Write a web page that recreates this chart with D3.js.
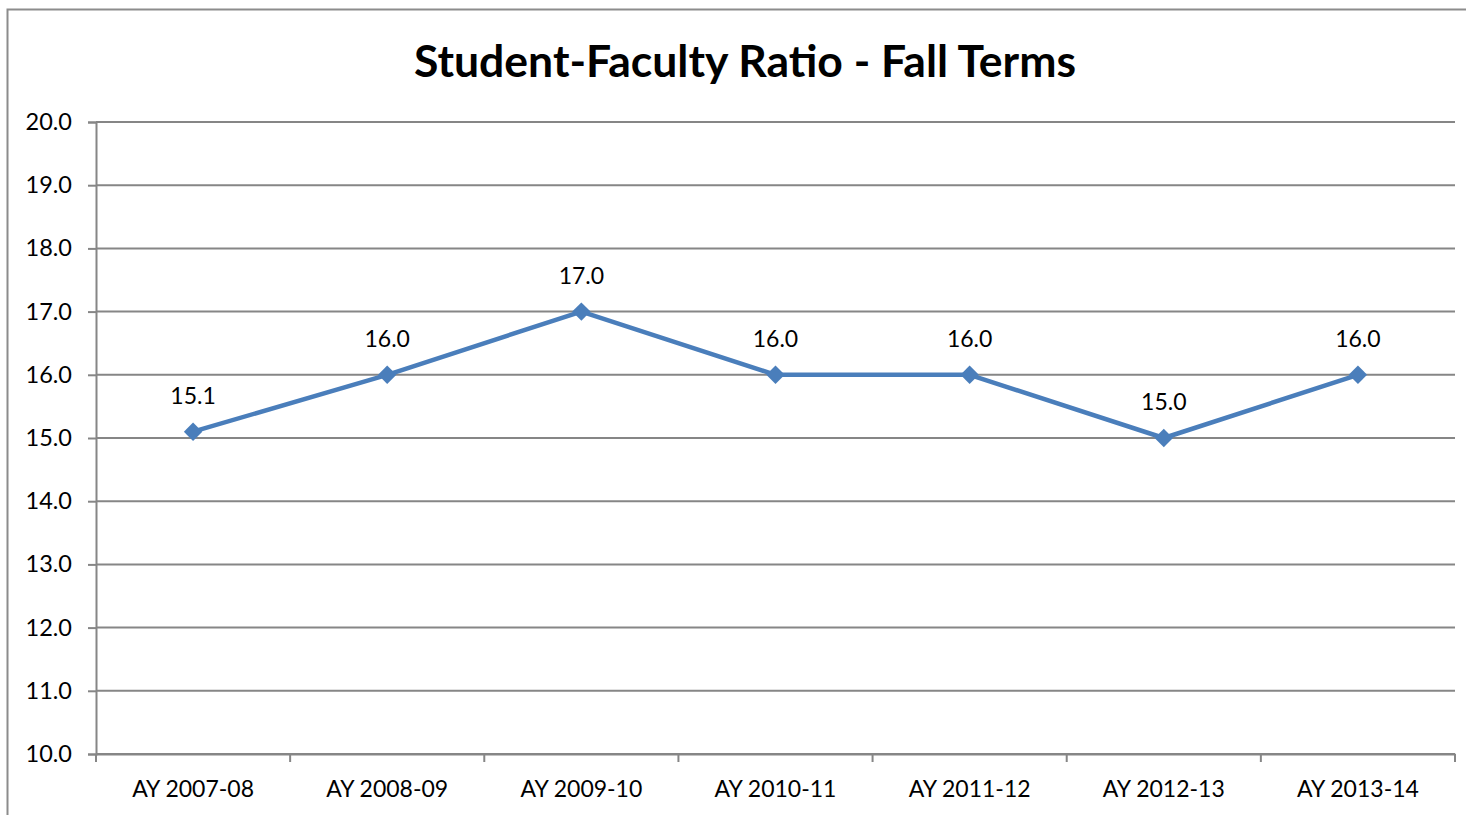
<!DOCTYPE html>
<html><head><meta charset="utf-8">
<script src="https://cdn.jsdelivr.net/npm/d3@7"></script>
<style>body{margin:0;background:#fff}svg{display:block}</style>
</head><body>
<svg id="c" width="1466" height="815"></svg>
<script>
const categories = ["AY 2007-08","AY 2008-09","AY 2009-10","AY 2010-11","AY 2011-12","AY 2012-13","AY 2013-14"];
const values = [15.1, 16.0, 17.0, 16.0, 16.0, 15.0, 16.0];
const yTicks = [10,11,12,13,14,15,16,17,18,19,20];
const title = "Student-Faculty Ratio - Fall Terms";

(function(){
const svg = d3.select("#c");
const font = "Lato, 'Open Sans', sans-serif";
svg.append("rect").attr("x",7.5).attr("y",9.5).attr("width",1470).attr("height",820)
  .attr("fill","#fff").attr("stroke","#8c8c8c").attr("stroke-width",2);

const pl = 96, pr = 1455, pt = 122, pb = 754;
const x = d3.scaleBand().domain(categories).range([pl,pr]);
const y = d3.scaleLinear().domain([10,20]).range([pb,pt]);

svg.append("g").selectAll("line").data(yTicks).join("line")
  .attr("x1",pl).attr("x2",pr).attr("y1",d=>y(d)).attr("y2",d=>y(d))
  .attr("stroke","#868686").attr("stroke-width",2);

const ya = svg.append("g").attr("transform",`translate(${pl},0)`)
  .call(d3.axisLeft(y).tickValues(yTicks).tickFormat(d3.format(".1f")).tickSize(8).tickPadding(16));
ya.select(".domain").attr("stroke","#868686").attr("stroke-width",2);
ya.selectAll(".tick line").attr("stroke","#868686").attr("stroke-width",2);
ya.selectAll("text").attr("font-family",font).attr("font-size",23.5).attr("fill","#000");

const xa = svg.append("g").attr("transform",`translate(0,${pb})`)
  .call(d3.axisBottom(x).tickSize(0).tickPadding(27));
xa.select(".domain").attr("stroke","#868686").attr("stroke-width",2);
xa.selectAll("text").attr("font-family",font).attr("font-size",23).attr("fill","#000");
const bounds = categories.map(c=>x(c)).concat([pr]);
svg.append("g").selectAll("line").data(bounds).join("line")
  .attr("x1",d=>d).attr("x2",d=>d).attr("y1",pb).attr("y2",pb+8)
  .attr("stroke","#868686").attr("stroke-width",2);

svg.append("text").attr("x",745).attr("y",77).attr("text-anchor","middle")
  .attr("font-family",font).attr("font-weight","bold").attr("font-size",44.5)
  .attr("fill","#000").text(title);

const cx = (d,i)=>x(categories[i])+x.bandwidth()/2;
const line = d3.line().x((d,i)=>cx(d,i)).y(d=>y(d));
svg.append("path").datum(values).attr("d",line).attr("fill","none")
  .attr("stroke","#4a7ebb").attr("stroke-width",4.5).attr("stroke-linejoin","round");

svg.append("g").selectAll("path").data(values).join("path")
  .attr("d",d3.symbol(d3.symbolSquare,170))
  .attr("transform",(d,i)=>`translate(${cx(d,i)},${y(d)}) rotate(45)`)
  .attr("fill","#4a7ebb");

svg.append("g").selectAll("text").data(values).join("text")
  .attr("x",(d,i)=>cx(d,i)).attr("y",d=>y(d)-28).attr("text-anchor","middle")
  .attr("font-family",font).attr("font-size",23).attr("fill","#000")
  .text(d=>d3.format(".1f")(d));
})();
</script>
</body></html>
